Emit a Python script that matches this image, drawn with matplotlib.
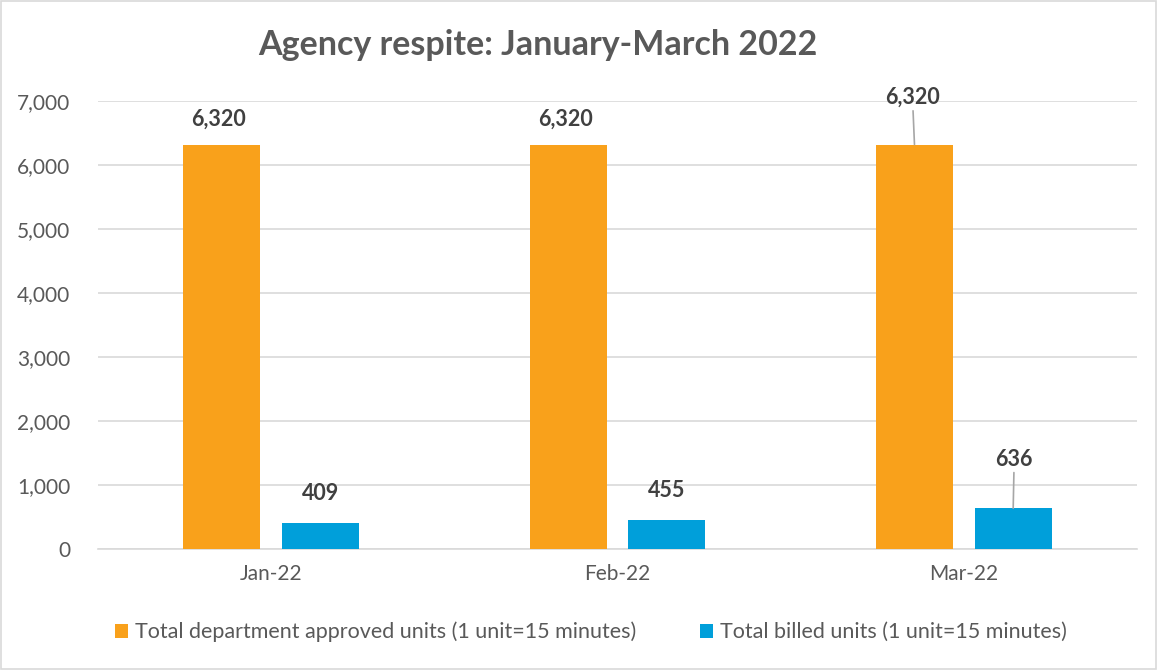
import matplotlib
matplotlib.use("Agg")
import matplotlib.pyplot as plt
from matplotlib.patches import Rectangle
import numpy as np

months = ["Jan-22", "Feb-22", "Mar-22"]
approved = [6320, 6320, 6320]
billed = [409, 455, 636]
series_names = ["Total department approved units (1 unit=15 minutes)",
                "Total billed units (1 unit=15 minutes)"]
yticks = [0, 1000, 2000, 3000, 4000, 5000, 6000, 7000]
title = "Agency respite: January-March 2022"

plt.rcParams['font.family'] = ['Lato', 'DejaVu Sans']

ORANGE = '#F9A11B'
BLUE = '#009FDA'
GRID = '#D9D9D9'
TXT = '#595959'
LBL = '#404040'

fig = plt.figure(figsize=(11.57, 6.70), dpi=100)
fig.patches.append(Rectangle((0.001, 0.001), 0.998, 0.997, transform=fig.transFigure,
                             fill=False, edgecolor=GRID, linewidth=1.2))
ax = fig.add_axes([98/1157, 121/670, 1039/1157, 448/670])

x = np.arange(len(months))
w = 0.223
off = 0.1425
b1 = ax.bar(x - off, approved, w, color=ORANGE, label=series_names[0], zorder=3)
b2 = ax.bar(x + off, billed, w, color=BLUE, label=series_names[1], zorder=3)

ax.set_xlim(-0.5, len(months) - 0.5)
ax.set_ylim(0, 7000)
ax.set_yticks(yticks)
ax.set_yticklabels([f"{v:,}" for v in yticks])
ax.set_xticks(x)
ax.set_xticklabels(months)
ax.tick_params(axis='both', length=0, labelsize=15, colors=TXT)
ax.tick_params(axis='x', pad=11)
ax.tick_params(axis='y', pad=20)
ax.yaxis.grid(True, color=GRID, linewidth=1.2, zorder=0)
ax.set_axisbelow(True)
for s in ['top', 'right', 'left']:
    ax.spines[s].set_visible(False)
ax.spines['bottom'].set_color(GRID)
ax.spines['bottom'].set_linewidth(1.2)

LFS = 15.5
lead = dict(arrowstyle='-', color='#A6A6A6', lw=1.2, shrinkA=0, shrinkB=0)
for i, (bar, v) in enumerate(zip(b1, approved)):
    cx = bar.get_x() + bar.get_width() / 2
    if i == 2:
        ax.annotate(f"{v:,}", (cx, v), xytext=(-2, 47), textcoords='offset pixels',
                    ha='center', va='center', fontsize=LFS, fontweight='bold', color=LBL,
                    arrowprops=lead)
    else:
        ax.annotate(f"{v:,}", (cx, v), xytext=(-3, 25), textcoords='offset pixels',
                    ha='center', va='center', fontsize=LFS, fontweight='bold', color=LBL)
for i, (bar, v) in enumerate(zip(b2, billed)):
    cx = bar.get_x() + bar.get_width() / 2
    if i == 2:
        ax.annotate(f"{v:,}", (cx, v), xytext=(1, 49), textcoords='offset pixels',
                    ha='center', va='center', fontsize=LFS, fontweight='bold', color=LBL,
                    arrowprops=lead)
    else:
        ax.annotate(f"{v:,}", (cx, v), xytext=(0, 29), textcoords='offset pixels',
                    ha='center', va='center', fontsize=LFS, fontweight='bold', color=LBL)

fig.text(538/1157, 1 - 45/670, title, ha='center', va='center', fontsize=24.5,
         fontweight='bold', color=TXT)

fig.legend(handles=[b1, b2], labels=series_names, loc='center', ncol=2,
           bbox_to_anchor=(591/1157, 1 - 632/670), frameon=False, fontsize=15.5,
           handlelength=0.6, handleheight=0.6, handletextpad=0.3, columnspacing=3.0,
           labelcolor=TXT)

fig.savefig("out.png", dpi=100)
